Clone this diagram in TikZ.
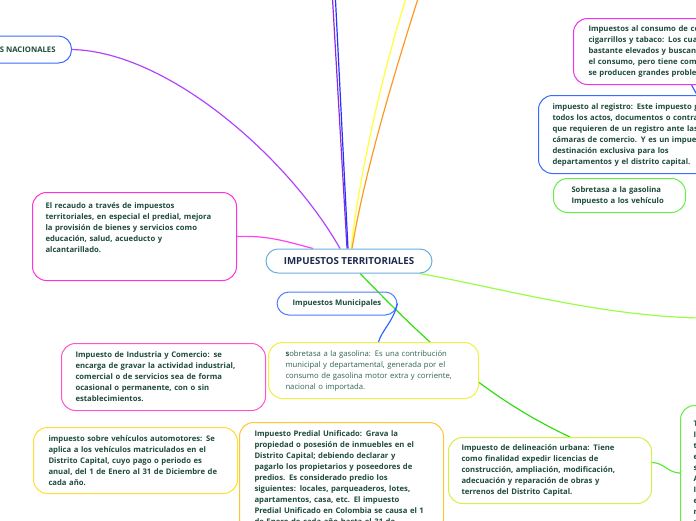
\documentclass[tikz,border=0pt]{standalone}
\usepackage{fontspec}
\setmainfont{Open Sans}
\usetikzlibrary{backgrounds}

\definecolor{txtgreen}{HTML}{1E4B3C}
\definecolor{txtsoft}{HTML}{2F6454}
\definecolor{txtnavy}{HTML}{1B2A4A}
\definecolor{bdcentral}{HTML}{6AAFE0}
\definecolor{bdblue}{HTML}{3A6CFF}
\definecolor{bdmunic}{HTML}{4A7DFF}
\definecolor{bdmagenta}{HTML}{FF33DD}
\definecolor{bdpink}{HTML}{FF55CC}
\definecolor{bdviolet}{HTML}{EE33EE}
\definecolor{bdyellow}{HTML}{EEF044}
\definecolor{bdgold}{HTML}{FFDD33}
\definecolor{bdorange}{HTML}{FFC533}
\definecolor{bdlime}{HTML}{D4F048}
\definecolor{bdgreen}{HTML}{66EE44}
\definecolor{lnpurple}{HTML}{B044FF}
\definecolor{lnviolet}{HTML}{8A2BE2}
\definecolor{lnblue}{HTML}{2233FF}
\definecolor{lnyellow}{HTML}{FFFF33}
\definecolor{lnorange}{HTML}{FF9922}
\definecolor{lnpink}{HTML}{FF44EE}
\definecolor{lngreen}{HTML}{33DD11}
\definecolor{lnlime}{HTML}{99FF44}
\definecolor{lnmid}{HTML}{55EE33}
\definecolor{lnmunic}{HTML}{3366FF}

\begin{document}
\begin{tikzpicture}[x=1pt, y=-1pt,
  topic/.style={draw, rounded corners=14pt, fill=white, line width=1pt,
    anchor=north west, align=left, text=txtgreen, inner ysep=0pt,
    font=\fontsize{7.7}{11}\selectfont\bfseries},
  label/.style={draw, rounded corners=12pt, line width=1pt, align=center,
    text=txtgreen, font=\fontsize{7.7}{11}\selectfont\bfseries},
  link/.style={line width=1.2pt},
]
\useasboundingbox (0,0) rectangle (696,520);
\clip (0,0) rectangle (696,520);

% Central topic
\node[label, draw=bdcentral, fill=white, text=txtnavy, minimum width=166pt,
  minimum height=24pt, font=\fontsize{9.7}{11}\selectfont\bfseries]
  (central) at (349,261) {IMPUESTOS TERRITORIALES};

% Left branch
\node[label, draw=bdblue, fill=white, anchor=east, minimum height=27pt,
  inner xsep=16pt, rounded corners=13pt] (nacionales) at (72,49.5)
  {IMPUESTOS NACIONALES};
\node[topic, draw=bdmagenta, text width=178pt, inner xsep=13pt,
  minimum height=88pt] (recaudo) at (32,192)
  {El recaudo a través de impuestos\\
   territoriales, en especial el predial, mejora\\
   la provisión de bienes y servicios como\\
   educación, salud, acueducto y\\
   alcantarillado.\\[7pt]\mbox{}};

% Municipal taxes
\node[label, draw=bdmunic, minimum width=120pt, minimum height=23pt]
  (municipales) at (337,303.5) {Impuestos Municipales};
\node[topic, draw=bdpink, text width=176pt, inner xsep=14pt,
  minimum height=67pt] (industria) at (61,343)
  {Impuesto de Industria y Comercio: se\\
   encarga de gravar la actividad industrial,\\
   comercial o de servicios sea de forma\\
   ocasional o permanente, con o sin\\
   establecimientos.};
\node[topic, draw=bdyellow, text width=176pt, inner xsep=17pt,
  minimum height=56pt, text=txtsoft, font=\fontsize{7.7}{11}\selectfont]
  (gasolina) at (268,342)
  {\textbf{s}obretasa a la gasolina: Es una contribución\\
   municipal y departamental, generada por  el\\
   consumo de gasolina motor extra y corriente,\\
   nacional o importada.};
\node[topic, draw=bdgold, text width=174pt, inner xsep=15pt,
  minimum height=66pt] (vehiculos) at (33,427)
  {impuesto sobre vehículos automotores: Se\\
   aplica a los vehículos matriculados en el\\
   Distrito Capital, cuyo pago o periodo es\\
   anual, del 1 de Enero al 31 de Diciembre de\\
   cada año.};
\node[topic, draw=bdorange, text width=174pt, inner xsep=15pt,
  minimum height=110pt] (predial) at (239,422)
  {Impuesto Predial Unificado: Grava la\\
   propiedad o posesión de inmuebles en el\\
   Distrito Capital; debiendo declarar y\\
   pagarlo los propietarios y poseedores de\\
   predios. Es considerado predio los\\
   siguientes: locales, parqueaderos, lotes,\\
   apartamentos, casa, etc. El impuesto\\
   Predial Unificado en Colombia se causa el 1\\
   de Enero de cada año hasta el 31 de};
\node[topic, draw=bdlime, text width=177pt, inner xsep=13pt,
  minimum height=66pt] (delineacion) at (448,437)
  {Impuesto de delineación urbana: Tiene\\
   como finalidad expedir licencias de\\
   construcción, ampliación, modificación,\\
   adecuación y reparación de obras y\\
   terrenos del Distrito Capital.};
\node[topic, draw=bdgreen, text width=176pt, inner xsep=13pt,
  minimum height=135pt] (otro) at (680,405)
  {T\\I\\t\\e\\s\\A\\I\\e\\n\\t};

% Departmental taxes (right)
\node[topic, draw=bdviolet, text width=190pt, inner xsep=15pt,
  minimum height=66pt] (consumo) at (573,18)
  {Impuestos al consumo de cervezas,\\
   cigarrillos y tabaco: Los cuales son\\
   bastante elevados  y buscan desincentivar\\
   el consumo, pero tiene como consecuencia\\
   se producen grandes problemas};
\node[topic, draw=bdblue, text width=190pt, inner xsep=14pt,
  minimum height=78pt] (registro) at (538,95)
  {impuesto al registro: Este impuesto grava\\
   todos los actos, documentos o contratos\\
   que requieren de un registro ante las\\
   cámaras de comercio. Y es un impuesto de\\
   destinación exclusiva para los\\
   departamentos y el distrito capital.};
\node[topic, draw=bdgreen, text width=96pt, inner xsep=18pt,
  minimum height=34pt] (sobretasa) at (553,178)
  {Sobretasa a la gasolina\\
   Impuesto a los vehículo};

% Free ends of connectors
\coordinate (topV) at (332,-10);
\coordinate (topB) at (335,-10);
\coordinate (topY) at (412,-20);
\coordinate (topO) at (424,-20);
\coordinate (farR) at (700,318);
\coordinate (conB) at (691,84);
\coordinate (conR) at (702,104);

% Connectors
\begin{scope}[on background layer]
\draw[link, draw=lnpurple] (nacionales.east) .. controls (170,52) and (290,160) .. ([xshift=-9pt]central.north);
\draw[link, draw=lnviolet] ([xshift=-2pt]central.north) -- (topV);
\draw[link, draw=lnblue] ([xshift=-1pt]central.north) -- (topB);
\draw[link, draw=lnyellow] ([xshift=2pt]central.north) .. controls (360,170) and (385,60) .. (topY);
\draw[link, draw=lnorange] ([xshift=3pt]central.north) .. controls (365,170) and (395,70) .. (topO);
\draw[link, draw=lnpink] (recaudo.east) to[out=2, in=165] ([xshift=-36pt]central.north);
\draw[link, draw=lngreen] ([xshift=11pt]central.south) .. controls (420,335) and (480,395) .. ([xshift=20pt]delineacion.north);
\draw[link, draw=lnlime] ([xshift=71pt]central.south) .. controls (500,288) and (600,316) .. (farR);
\draw[link, draw=lnmid] ([yshift=8pt]delineacion.east) to[out=0, in=180] (otro.west);
\draw[link, draw=lnmunic] (conB) -- (conR);
\end{scope}
\draw[link, draw=lnmunic] (municipales.east) .. controls (393,322) and (382,330) .. ([xshift=5pt]gasolina.north);

\end{tikzpicture}
\end{document}
